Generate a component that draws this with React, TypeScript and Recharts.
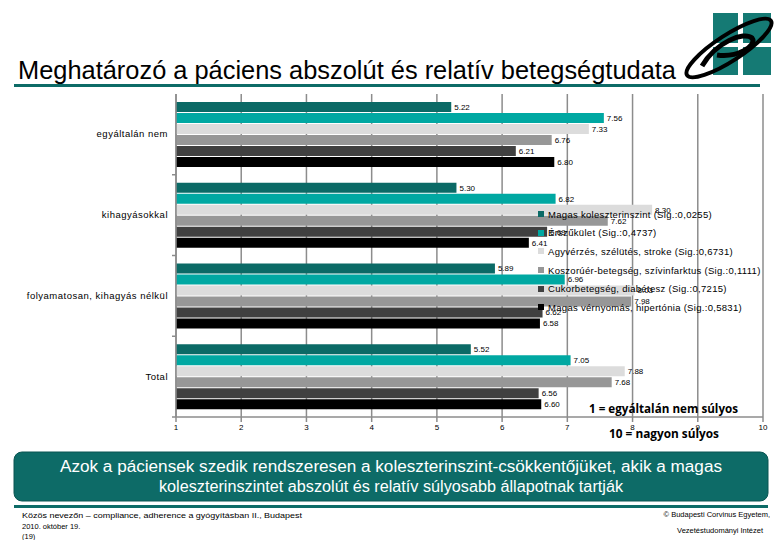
import { BarChart, Bar, XAxis, YAxis, CartesianGrid, LabelList } from "recharts";

// ─── data ────────────────────────────────────────────────

const categories = ["egyáltalán nem", "kihagyásokkal", "folyamatosan, kihagyás nélkül", "Total"];

const cholesterol = [5.22, 5.3, 5.89, 5.52];
const vascular = [7.56, 6.82, 6.96, 7.05];
const stroke = [7.33, 8.3, 8.03, 7.88];
const coronary = [6.76, 7.62, 7.98, 7.68];
const diabetes = [6.21, 6.69, 6.62, 6.56];
const hypertension = [6.8, 6.41, 6.58, 6.6];

const seriesNames = [
  "Magas koleszterinszint (Sig.:0,0255)",
  "Érszűkület (Sig.:0,4737)",
  "Agyvérzés, szélütés, stroke (Sig.:0,6731)",
  "Koszorúér-betegség, szívinfarktus (Sig.:0,1111)",
  "Cukorbetegség, diabétesz (Sig.:0,7215)",
  "Magas vérnyomás, hipertónia (Sig.:0,5831)",
];

const xTicks = [1, 2, 3, 4, 5, 6, 7, 8, 9, 10];

const SERIES = [
  { key: "s0", values: cholesterol, color: "#0b6a66" },
  { key: "s1", values: vascular, color: "#00a8a2" },
  { key: "s2", values: stroke, color: "#dcdcdc" },
  { key: "s3", values: coronary, color: "#979797" },
  { key: "s4", values: diabetes, color: "#404040" },
  { key: "s5", values: hypertension, color: "#000000" },
];

const rows = categories.map((name, i) => {
  const row: Record<string, string | number> = { name };
  SERIES.forEach((s) => (row[s.key] = s.values[i]));
  return row;
});

const FONT = "'Liberation Sans', Arial, sans-serif";
const TEAL = "#0d6b67";
const GRID = "#8c8c8c";

// ─── ticks / legend ──────────────────────────────────────

function CategoryTick(props: any) {
  const { x, y, payload } = props;
  const half = payload?.offset ?? 40;
  const axisX = x + 8;
  return (
    <g>
      <text x={x} y={y} dy={3} textAnchor="end" fontSize={9.5} letterSpacing={0.5} fill="#000" fontFamily={FONT}>
        {payload.value}
      </text>
      <line x1={axisX - 4} x2={axisX} y1={y + half} y2={y + half} stroke={GRID} strokeWidth={1.5} />
    </g>
  );
}

// legend sits on top of the bars, like in the slide
function SeriesLegend() {
  return (
    <div
      style={{
        position: "absolute",
        left: 538,
        top: 205,
        fontFamily: FONT,
        fontSize: 9.5,
        letterSpacing: 0.3,
        color: "#000",
        pointerEvents: "none",
      }}
    >
      {SERIES.map((s, i) => (
        <div key={s.key} style={{ height: 18.6, display: "flex", alignItems: "center", whiteSpace: "nowrap" }}>
          <span style={{ width: 6, height: 6, background: s.color, marginRight: 4, display: "inline-block" }} />
          {seriesNames[i]}
        </div>
      ))}
    </div>
  );
}

// ─── page decorations ────────────────────────────────────

function Decorations() {
  return (
    <svg width={780} height={540} style={{ position: "absolute", left: 0, top: 0, pointerEvents: "none" }}>
      <text x={18} y={79} fontSize={25} fontFamily={FONT} textLength={658} lengthAdjust="spacingAndGlyphs" fill="#000">
        Meghatározó a páciens abszolút és relatív betegségtudata
      </text>
      <rect x={14} y={84} width={746} height={3} fill={TEAL} />

      {/* logo */}
      <rect x={713} y={13} width={25} height={30} fill="#157a74" />
      <rect x={743} y={13} width={28} height={30} fill="#157a74" />
      <rect x={713} y={47} width={25} height={28} fill="#157a74" />
      <rect x={743} y={47} width={28} height={28} fill="#157a74" />
      <ellipse cx={729} cy={48} rx={50} ry={13} transform="rotate(-33 729 48)" fill="none" stroke="#000" strokeWidth={4} />
      <path d="M702 66 C 716 42, 744 31, 752 38 C 758 46, 736 58, 717 55" fill="none" stroke="#000" strokeWidth={5} />

      <text x={589} y={413} fontSize={13} fontWeight="bold" fontFamily="'Open Sans', sans-serif" textLength={149} lengthAdjust="spacingAndGlyphs">
        1 = egyáltalán nem súlyos
      </text>
      <text x={609} y={438} fontSize={13} fontWeight="bold" fontFamily="'Open Sans', sans-serif" textLength={110} lengthAdjust="spacingAndGlyphs">
        10 = nagyon súlyos
      </text>

      <rect x={14} y={452} width={754} height={49} rx={8} fill={TEAL} stroke="#0a5552" />
      <text x={391} y={472} fontSize={16} fill="#fff" fontFamily={FONT} textAnchor="middle" textLength={662} lengthAdjust="spacingAndGlyphs">
        Azok a páciensek szedik rendszeresen a koleszterinszint-csökkentőjüket, akik a magas
      </text>
      <text x={391} y={492} fontSize={16} fill="#fff" fontFamily={FONT} textAnchor="middle" textLength={464} lengthAdjust="spacingAndGlyphs">
        koleszterinszintet abszolút és relatív súlyosabb állapotnak tartják
      </text>
      <rect x={14} y={505} width={754} height={3} fill={TEAL} />

      <g fontSize={7.5} fontFamily={FONT} fill="#000">
        <text x={22} y={518} textLength={280} lengthAdjust="spacingAndGlyphs">
          Közös nevezőn – compliance, adherence a gyógyításban II., Budapest
        </text>
        <text x={22} y={529}>2010. október 19.</text>
        <text x={22} y={539}>(19)</text>
        <text x={770} y={517} textAnchor="end">© Budapesti Corvinus Egyetem,</text>
        <text x={763} y={533} textAnchor="end">Vezetéstudományi Intézet</text>
      </g>
    </svg>
  );
}

// ─── App ─────────────────────────────────────────────────

export default function App() {
  return (
    <div style={{ position: "absolute", left: 0, top: 0, width: 780, height: 540, background: "#fff", overflow: "hidden" }}>
      <BarChart
        width={780}
        height={540}
        data={rows}
        layout="vertical"
        margin={{ top: 94, right: 17, left: 0, bottom: 93 }}
        barCategoryGap="10%"
        barGap={1}
      >
        <CartesianGrid vertical horizontal={false} stroke={GRID} strokeWidth={1.5} />
        <XAxis
          type="number"
          domain={[1, 10]}
          ticks={xTicks}
          allowDataOverflow
          tick={{ fontSize: 8, fill: "#000", fontFamily: FONT }}
          tickSize={5}
          tickLine={{ stroke: GRID, strokeWidth: 1.5 }}
          axisLine={{ stroke: GRID, strokeWidth: 1.5 }}
          height={30}
        />
        <YAxis
          type="category"
          dataKey="name"
          width={176}
          tickLine={false}
          axisLine={{ stroke: GRID, strokeWidth: 1.5 }}
          tick={<CategoryTick />}
          interval={0}
        />
        {SERIES.map((s) => (
          <Bar key={s.key} dataKey={s.key} fill={s.color} isAnimationActive={false}>
            <LabelList
              dataKey={s.key}
              position="right"
              offset={3}
              fontSize={8}
              fill="#000"
              fontFamily={FONT}
              formatter={(v: any) => Number(v).toFixed(2)}
            />
          </Bar>
        ))}
      </BarChart>
      <SeriesLegend />
      <Decorations />
    </div>
  );
}
